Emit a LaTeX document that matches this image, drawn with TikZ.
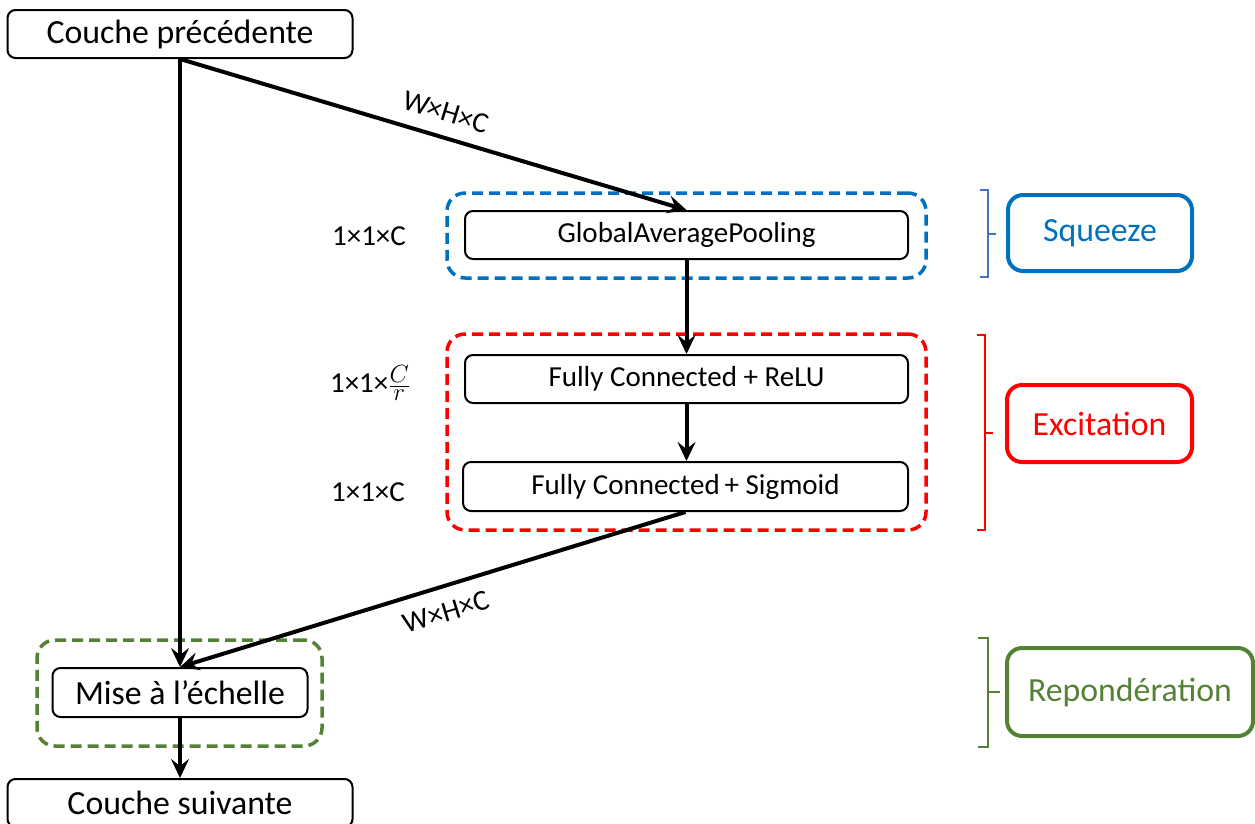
\documentclass[tikz,border=0pt]{standalone}
\usepackage{fontspec}
\setmainfont{Carlito}
\usetikzlibrary{arrows.meta}
\definecolor{sqblue}{HTML}{0070C0}
\definecolor{brblue}{HTML}{4472C4}
\definecolor{exred}{HTML}{FF0000}
\definecolor{rpgreen}{HTML}{548235}
\tikzset{
  bigtxt/.style={font=\fontsize{33.8}{38}\selectfont},
  midtxt/.style={font=\fontsize{29}{34}\selectfont},
  layerbox/.style={draw, line width=2pt, rounded corners=8pt, inner sep=0pt, align=center},
  groupbox/.style={draw, line width=3.5pt, rounded corners=18pt, dash pattern=on 11pt off 6pt, inner sep=0pt},
  tagbox/.style={draw, line width=4pt, rounded corners=15pt, inner sep=0pt, bigtxt},
  flow/.style={line width=4pt, -{Stealth[length=19pt,width=18pt,inset=7pt]}},
  brk/.style={line width=2pt}
}
\begin{document}
\begin{tikzpicture}[x=1pt,y=-1pt]
\useasboundingbox (0,0) rectangle (1255,823);
% group boxes (dashed)
\node[groupbox, draw=sqblue, minimum width=479pt, minimum height=85pt] (gsq) at (686.5,235.5) {};
\node[groupbox, draw=exred, minimum width=479pt, minimum height=196pt] (gex) at (686.5,432) {};
\node[groupbox, draw=rpgreen, minimum width=285pt, minimum height=106pt] (grp) at (179.5,693) {};
% layers
\node[layerbox, bigtxt, minimum width=345pt, minimum height=48pt] (prev) at (180,34) {Couche précédente};
\node[layerbox, bigtxt, minimum width=345pt, minimum height=48pt] (next) at (180,803) {Couche suivante};
\node[layerbox, midtxt, minimum width=443pt, minimum height=48pt] (gap) at (686.5,235) {GlobalAveragePooling};
\node[layerbox, midtxt, minimum width=443pt, minimum height=48pt] (relu) at (686.5,379) {Fully Connected + ReLU};
\node[layerbox, midtxt, minimum width=445pt, minimum height=49pt] (sig) at (685.5,486.5) {Fully Connected\,+ Sigmoid};
\node[layerbox, bigtxt, minimum width=255pt, minimum height=49pt] (mise) at (180,692.5) {Mise à l’échelle};
% side labels
\node[midtxt] (l1) at (369,236) {1×1×C};
\node[midtxt] (l2) at (370,383) {1×1×{\fontsize{38}{40}\selectfont$\frac{C}{r}$}};
\node[midtxt] (l3) at (368,492) {1×1×C};
% connectors
\draw[flow] (prev.south) -- (mise.north);
\draw[flow] (prev.south) -- (gap.north);
\draw[flow] (gap.south) -- (relu.north);
\draw[flow] (relu.south) -- (sig.north -| relu.south);
\draw[flow] (sig.south) -- (mise.north);
\draw[flow] (mise.south) -- (next.north);
\node[midtxt, rotate=-16.8] (d1) at (446,112) {W×H×C};
\node[midtxt, rotate=17.2] (d2) at (446,612) {W×H×C};
% brackets
\draw[brk, brblue] (980,190) -- (988,190) -- (988,277) -- (980,277);
\draw[brk, brblue] (988,234) -- (996,234);
\draw[brk, exred] (977,335) -- (985,335) -- (985,530) -- (977,530);
\draw[brk, exred] (985,433) -- (993,433);
\draw[brk, rpgreen] (978,638) -- (988,638) -- (988,747) -- (978,747);
\draw[brk, rpgreen] (988,692) -- (1000,692);
% tags
\node[tagbox, draw=sqblue, text=sqblue, minimum width=184pt, minimum height=76pt] (tsq) at (1100,233) {Squeeze};
\node[tagbox, draw=exred, text=exred, minimum width=185pt, minimum height=77pt] (tex) at (1099.5,423.5) {Excitation};
\node[tagbox, draw=rpgreen, text=rpgreen, minimum width=246pt, minimum height=88pt] (trp) at (1130,692) {Repondération};
\end{tikzpicture}
\end{document}
